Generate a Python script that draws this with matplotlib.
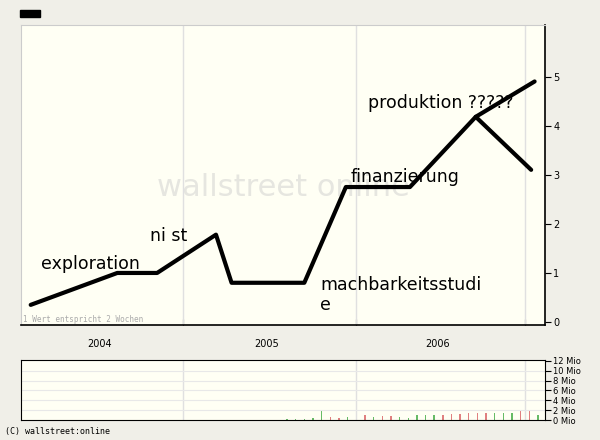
import matplotlib
matplotlib.use("Agg")
import matplotlib.pyplot as plt

# main hand-drawn line (x in years, y in price)
line_x = [2004.12, 2004.62, 2004.85, 2005.19, 2005.28, 2005.70, 2005.94, 2006.31, 2006.69, 2007.03]
line_y = [0.35, 1.0, 1.0, 1.78, 0.8, 0.8, 2.75, 2.75, 4.18, 4.9]
branch_x = [2006.69, 2007.01]
branch_y = [4.18, 3.1]
labels = ["exploration", "ni st", "machbarkeitsstudi\ne", "finanzierung", "produktion ?????"]
label_x = [2004.18, 2004.81, 2005.79, 2005.97, 2006.07]
label_y = [1.0, 1.57, 0.16, 2.77, 4.27]
years = ["2004", "2005", "2006"]
year_pos = [2004.52, 2005.48, 2006.47]
vol_x = [2005.60, 2005.65, 2005.70, 2005.75, 2005.80, 2005.85, 2005.90, 2005.95, 2006.00, 2006.05,
         2006.10, 2006.15, 2006.20, 2006.25, 2006.30, 2006.35, 2006.40, 2006.45, 2006.50, 2006.55,
         2006.60, 2006.65, 2006.70, 2006.75, 2006.80, 2006.85, 2006.90, 2006.95, 2007.00, 2007.05]
vol_y = [0.2, 0.2, 0.3, 0.4, 1.8, 0.6, 0.4, 0.6, 0.7, 1.0, 0.6, 0.9, 0.8, 0.7, 0.5, 1.0, 1.0, 1.0, 1.1, 1.2,
         1.2, 1.4, 1.4, 1.4, 1.5, 1.5, 1.5, 1.9, 1.9, 1.0]
vol_c = ["g", "g", "g", "g", "g", "r", "r", "g", "r", "r", "g", "r", "r", "g", "g", "g", "g", "g", "r", "r",
         "r", "r", "r", "r", "g", "g", "g", "r", "r", "g"]

bg = "#f0efe8"
face = "#fffff4"
X0, X1 = 2004.064, 2007.09
fig = plt.figure(figsize=(6, 4.4), dpi=100, facecolor=bg)
ax = fig.add_axes([21/600, 1-325/440, 524/600, 300/440], facecolor=face)
ax.set_xlim(X0, X1)
ax.set_ylim(-0.06, 6.05)
for g in [2005, 2006, 2006.977]:
    ax.axvline(g, color="#e0e0e0", lw=1)
ax.plot(line_x, line_y, color="black", lw=3, solid_capstyle="round", solid_joinstyle="round")
ax.plot(branch_x, branch_y, color="black", lw=3, solid_capstyle="round")
for t, x, y in zip(labels, label_x, label_y):
    ax.text(x, y, t, fontsize=12.5, family="DejaVu Sans", va="bottom", ha="left", linespacing=1.15)
ax.text(0.5, 0.46, "wallstreet online", transform=ax.transAxes, fontsize=22, color="#e6e6e0",
        ha="center", va="center", zorder=0)
ax.text(0.003, 0.01, "1 Wert entspricht 2 Wochen", transform=ax.transAxes, fontsize=5.5,
        color="#aaaaaa", family="DejaVu Sans Mono")
ax.yaxis.tick_right()
ax.set_yticks([0, 1, 2, 3, 4, 5])
ax.tick_params(axis="y", labelsize=7, length=4, pad=2)
ax.set_xticks([2005, 2006, 2006.977])
ax.set_xticklabels([])
ax.tick_params(axis="x", length=4, direction="in")
for s in ["top", "left"]:
    ax.spines[s].set_color("#cccccc")
ax.spines["bottom"].set_linewidth(1.2)
ax.spines["right"].set_linewidth(1.2)
for y, p in zip(years, year_pos):
    ax.text(p, -0.35, y, ha="center", va="top", fontsize=7)

vx = fig.add_axes([21/600, 1-420/440, 524/600, 60/440], facecolor=face)
vx.set_xlim(X0, X1)
vx.set_ylim(0, 12.2)
for g in [2005, 2006, 2006.977]:
    vx.axvline(g, color="#e0e0e0", lw=1)
for yy in [2, 4, 6, 8, 10]:
    vx.axhline(yy, color="#e8e8e8", lw=0.8)
cmap = {"g": "#66bb66", "r": "#e08080"}
vx.bar(vol_x, vol_y, width=0.008, color=[cmap[c] for c in vol_c])
vx.yaxis.tick_right()
vx.set_yticks([0, 2, 4, 6, 8, 10, 12])
vx.set_yticklabels([f"{v} Mio" for v in [0, 2, 4, 6, 8, 10, 12]], fontsize=6)
vx.tick_params(axis="y", length=4, pad=2)
vx.set_xticks([])

fig.patches.append(plt.Rectangle((20/600, 1-17/440), 20/600, 7/440, transform=fig.transFigure, color="black"))
fig.text(5/600, 1-434/440, "(C) wallstreet:online", fontsize=6, family="DejaVu Sans Mono")
fig.savefig("out.png", dpi=100, facecolor=bg)
